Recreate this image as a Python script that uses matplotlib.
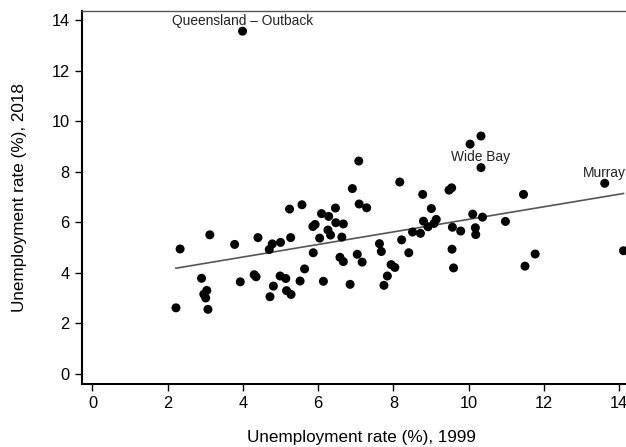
import matplotlib.pyplot as plt
import numpy as np

plt.rcParams['font.family'] = ['Liberation Sans', 'DejaVu Sans']

# unemployment rate (%) by region, 1999 vs 2018
rate_1999 = [3.99, 10.33, 10.04, 10.33, 13.62, 7.08, 8.17, 6.91, 8.78, 9.48,
             9.55, 11.46, 7.09, 7.29, 9.01, 5.24, 5.57, 6.46, 6.09, 6.28,
             10.11, 10.37, 10.98, 8.80, 9.14, 8.92, 9.08, 6.67, 6.47, 5.92,
             5.86, 6.26, 6.33, 6.04, 6.63, 9.57, 9.79, 10.18, 10.19, 8.51,
             8.72, 8.22, 7.63, 7.68, 8.41, 7.04, 7.17, 6.58, 6.67, 9.56,
             9.60, 7.94, 8.04, 7.84, 7.75, 6.85, 11.50, 11.77, 14.12, 5.87,
             6.14, 2.22, 2.33, 2.90, 3.12, 3.04, 2.96, 3.01, 3.07, 3.78,
             3.93, 4.30, 4.35, 4.40, 4.70, 4.78, 5.00, 5.27, 4.81, 4.72,
             4.99, 5.14, 5.16, 5.28, 5.52, 5.64]
rate_2018 = [13.57, 9.42, 9.10, 8.17, 7.55, 8.43, 7.60, 7.34, 7.11, 7.28,
             7.37, 7.11, 6.73, 6.58, 6.55, 6.53, 6.70, 6.57, 6.35, 6.24,
             6.33, 6.21, 6.04, 6.05, 6.12, 5.83, 5.96, 5.94, 5.99, 5.92,
             5.84, 5.70, 5.50, 5.38, 5.42, 5.81, 5.66, 5.79, 5.52, 5.62,
             5.57, 5.31, 5.16, 4.85, 4.80, 4.74, 4.43, 4.62, 4.45, 4.94,
             4.20, 4.33, 4.22, 3.88, 3.51, 3.55, 4.27, 4.75, 4.88, 4.80,
             3.67, 2.62, 4.95, 3.79, 5.51, 3.31, 3.16, 3.01, 2.56, 5.13,
             3.65, 3.93, 3.85, 5.40, 4.93, 5.15, 5.21, 5.40, 3.48, 3.06,
             3.88, 3.78, 3.30, 3.15, 3.68, 4.16]

labelled = {0: 'Queensland \u2013 Outback', 3: 'Wide Bay', 4: 'Murray'}

x = np.array(rate_1999)
y = np.array(rate_2018)

fig = plt.figure(figsize=(6.26, 4.47), dpi=100)
ax = fig.add_axes([0.1315, 0.142, 0.891, 0.834])

ax.scatter(x, y, s=42, color='black', edgecolors='none', zorder=3)

# linear fit across the observed range
slope, intercept = np.polyfit(x, y, 1)
xf = np.array([x.min(), x.max()])
ax.plot(xf, intercept + slope * xf, color='#555555', lw=1.2, zorder=2)

for i, name in labelled.items():
    ax.annotate(name, (x[i], y[i]), xytext=(0, 2.5), textcoords='offset points',
                ha='center', va='bottom', fontsize=9.9, color='#222222')

ax.set_xlim(-0.27, 14.56)
ax.set_ylim(-0.376, 14.38)
ax.set_xticks(range(0, 15, 2))
ax.set_yticks(range(0, 15, 2))

ax.spines['right'].set_visible(False)
ax.spines['top'].set_color('#555555')
ax.spines['top'].set_linewidth(1.0)
for side in ['left', 'bottom']:
    ax.spines[side].set_linewidth(1.5)
ax.tick_params(direction='out', length=5, width=1, labelsize=11.8, pad=4)

ax.set_xlabel('Unemployment rate (%), 1999', fontsize=12.3, labelpad=14)
ax.set_ylabel('Unemployment rate (%), 2018', fontsize=12.3, labelpad=18)

fig.savefig('out.png', dpi=100)
